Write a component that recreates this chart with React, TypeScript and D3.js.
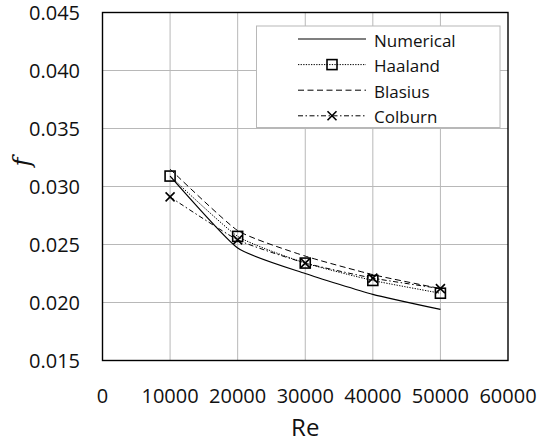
import React, { useEffect, useRef } from "react";
import * as d3 from "d3";

// Reynolds numbers and friction factor series
const reynolds = [10000, 20000, 30000, 40000, 50000];
const numerical = [0.0309, 0.0247, 0.0225, 0.0207, 0.0194];
const haaland = [0.0309, 0.0257, 0.0234, 0.0219, 0.0208];
const blasius = [0.0315, 0.0262, 0.024, 0.0224, 0.0212];
const colburn = [0.0291, 0.0254, 0.0234, 0.0221, 0.0212];

const xTicks = [0, 10000, 20000, 30000, 40000, 50000, 60000];
const yTicks = [0.015, 0.02, 0.025, 0.03, 0.035, 0.04, 0.045];

const seriesNames = ["Numerical", "Haaland", "Blasius", "Colburn"];

const W = 540;
const H = 443;
const plot = { left: 102.5, right: 508, top: 12.5, bottom: 360.5 };

type Style = { dash: string | null; width: number; marker: "none" | "square" | "x" };
const styles: Style[] = [
  { dash: null, width: 1.2, marker: "none" },
  { dash: "1.3,1.3", width: 1, marker: "square" },
  { dash: "6,3.5", width: 1, marker: "none" },
  { dash: "5,2.5,1.5,2.5", width: 1, marker: "x" },
];

export default function App() {
  const ref = useRef<SVGSVGElement | null>(null);

  useEffect(() => {
    const svg = d3.select(ref.current);
    svg.selectAll("*").remove();

    const x = d3.scaleLinear().domain([0, 60000]).range([plot.left, plot.right]);
    const y = d3.scaleLinear().domain([0.015, 0.045]).range([plot.bottom, plot.top]);

    const font = "'Open Sans', sans-serif";

    // gridlines
    const grid = svg.append("g");
    grid
      .selectAll("line.v")
      .data(xTicks.slice(1, -1))
      .join("line")
      .attr("x1", (d) => x(d))
      .attr("x2", (d) => x(d))
      .attr("y1", plot.top)
      .attr("y2", plot.bottom)
      .attr("stroke", "#b8b8b8")
      .attr("stroke-width", 1);
    grid
      .selectAll("line.h")
      .data(yTicks.slice(1, -1))
      .join("line")
      .attr("x1", plot.left)
      .attr("x2", plot.right)
      .attr("y1", (d) => y(d))
      .attr("y2", (d) => y(d))
      .attr("stroke", "#b8b8b8")
      .attr("stroke-width", 1);

    // plot frame
    svg
      .append("rect")
      .attr("x", plot.left)
      .attr("y", plot.top)
      .attr("width", plot.right - plot.left)
      .attr("height", plot.bottom - plot.top)
      .attr("fill", "none")
      .attr("stroke", "#000")
      .attr("stroke-width", 1.4);

    // tick labels
    svg
      .append("g")
      .selectAll("text")
      .data(yTicks)
      .join("text")
      .attr("x", 80)
      .attr("y", (d) => y(d))
      .attr("text-anchor", "end")
      .attr("dominant-baseline", "central")
      .attr("font-family", font)
      .attr("font-size", 20)
      .attr("fill", "#111")
      .text((d) => d3.format(".3f")(d));

    svg
      .append("g")
      .selectAll("text")
      .data(xTicks)
      .join("text")
      .attr("x", (d) => x(d))
      .attr("y", 395)
      .attr("text-anchor", "middle")
      .attr("dominant-baseline", "central")
      .attr("font-family", font)
      .attr("font-size", 20)
      .attr("fill", "#111")
      .text((d) => String(d));

    // axis titles
    svg
      .append("text")
      .attr("x", (plot.left + plot.right) / 2)
      .attr("y", 436)
      .attr("text-anchor", "middle")
      .attr("font-family", font)
      .attr("font-size", 24)
      .attr("fill", "#111")
      .text("Re");

    svg
      .append("text")
      .attr("transform", "translate(22,162) rotate(-90)")
      .attr("text-anchor", "middle")
      .attr("dominant-baseline", "central")
      .attr("font-family", "'DejaVu Serif', serif")
      .attr("font-style", "italic")
      .attr("font-size", 24)
      .attr("fill", "#111")
      .text("f");

    const allSeries = [numerical, haaland, blasius, colburn];
    const line = d3
      .line<number>()
      .x((_, i) => x(reynolds[i]))
      .y((d) => y(d))
      .curve(d3.curveCardinal.tension(0.5));

    const drawMarker = (g: any, kind: string, cx: number, cy: number) => {
      if (kind === "square") {
        g.append("rect")
          .attr("x", cx - 5)
          .attr("y", cy - 5)
          .attr("width", 10)
          .attr("height", 10)
          .attr("fill", "none")
          .attr("stroke", "#000")
          .attr("stroke-width", 1.6);
      } else if (kind === "x") {
        const r = 4.5;
        g.append("path")
          .attr("d", `M${cx - r},${cy - r}L${cx + r},${cy + r}M${cx - r},${cy + r}L${cx + r},${cy - r}`)
          .attr("stroke", "#000")
          .attr("stroke-width", 1.6)
          .attr("fill", "none");
      }
    };

    allSeries.forEach((vals, si) => {
      const st = styles[si];
      const g = svg.append("g");
      g.append("path")
        .attr("d", line(vals) as string)
        .attr("fill", "none")
        .attr("stroke", "#000")
        .attr("stroke-width", st.width)
        .attr("stroke-dasharray", st.dash);
      vals.forEach((v, i) => drawMarker(g, st.marker, x(reynolds[i]), y(v)));
    });

    // legend
    const lg = svg.append("g");
    lg.append("rect")
      .attr("x", 256.5)
      .attr("y", 26)
      .attr("width", 243.5)
      .attr("height", 101.5)
      .attr("fill", "#fff")
      .attr("stroke", "#b8b8b8")
      .attr("stroke-width", 1);
    seriesNames.forEach((name, i) => {
      const st = styles[i];
      const ry = 39 + i * 25.6;
      const row = lg.append("g");
      row
        .append("line")
        .attr("x1", 298)
        .attr("x2", 366)
        .attr("y1", ry)
        .attr("y2", ry)
        .attr("stroke", "#000")
        .attr("stroke-width", st.width)
        .attr("stroke-dasharray", st.dash);
      drawMarker(row, st.marker, 332, ry);
      row
        .append("text")
        .attr("x", 374)
        .attr("y", ry + 1)
        .attr("dominant-baseline", "central")
        .attr("font-family", font)
        .attr("font-size", 17)
        .attr("fill", "#111")
        .text(name);
    });
  }, []);

  return (
    <svg
      ref={ref}
      width={W}
      height={H}
      style={{ position: "absolute", left: 0, top: 0, background: "#fff" }}
    />
  );
}
